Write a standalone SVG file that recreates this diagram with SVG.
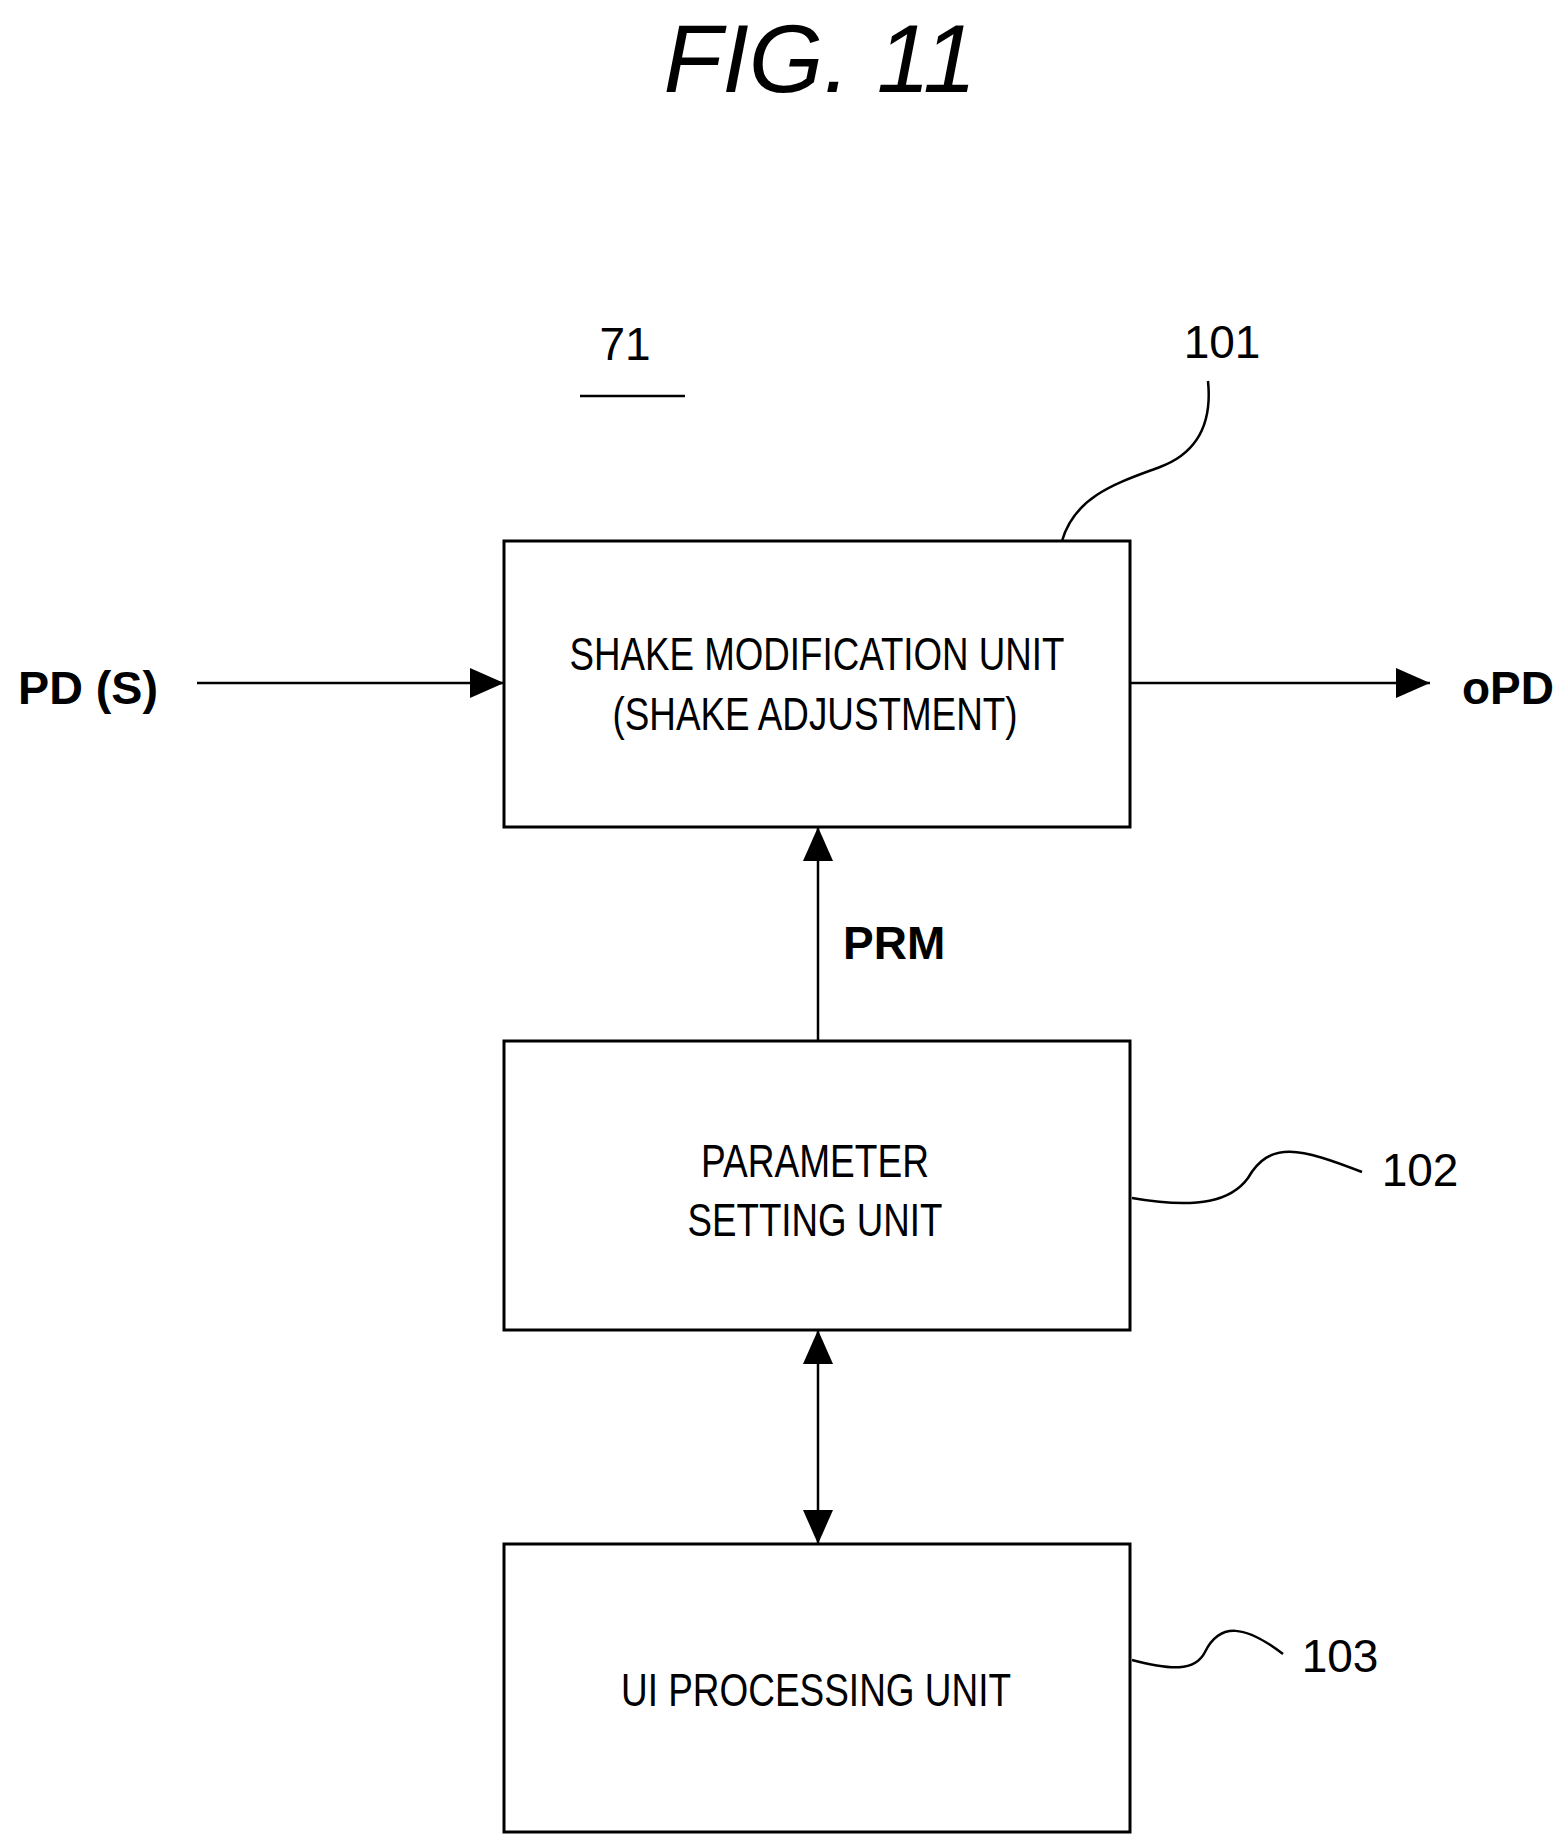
<svg xmlns="http://www.w3.org/2000/svg" width="1561" height="1844" viewBox="0 0 1561 1844">
<style>
.box{fill:#fff;stroke:#000;stroke-width:3}
.ln{fill:none;stroke:#000;stroke-width:2.5}
.t{font-family:"Liberation Sans",Arial,sans-serif;font-size:46px;fill:#000;text-anchor:middle}
.b{font-family:"Liberation Sans",Arial,sans-serif;font-size:46px;font-weight:bold;fill:#000}
</style>
<defs>
<marker id="ah" markerWidth="10" markerHeight="10" refX="10" refY="5" orient="auto-start-reverse" markerUnits="userSpaceOnUse" viewBox="0 0 10 10"><path d="M0,0 L10,5 L0,10 z" fill="#000" transform="scale(1)"/></marker>
<marker id="a" markerWidth="34" markerHeight="30" refX="34" refY="15" orient="auto-start-reverse" markerUnits="userSpaceOnUse"><path d="M0,0 L34,15 L0,30 z" fill="#000"/></marker>
</defs>
<text x="820" y="92" font-family="Liberation Sans,Arial,sans-serif" font-size="96" font-style="italic" text-anchor="middle">FIG. 11</text>
<text x="625" y="360" class="t">71</text>
<line x1="580" y1="396" x2="685" y2="396" class="ln" stroke-width="2"/>
<g id="n101"><rect x="504" y="541" width="626" height="286" class="box"/>
<text x="817" y="670" class="t" textLength="495" lengthAdjust="spacingAndGlyphs">SHAKE MODIFICATION UNIT</text>
<text x="815" y="730" class="t" textLength="405" lengthAdjust="spacingAndGlyphs">(SHAKE ADJUSTMENT)</text>
<text x="1222" y="358" class="t">101</text></g>
<g id="n102"><rect x="504" y="1041" width="626" height="289" class="box"/>
<text x="815" y="1177" class="t" textLength="228" lengthAdjust="spacingAndGlyphs">PARAMETER</text>
<text x="815" y="1236" class="t" textLength="255" lengthAdjust="spacingAndGlyphs">SETTING UNIT</text>
<text x="1420" y="1186" class="t">102</text></g>
<g id="n103"><rect x="504" y="1544" width="626" height="288" class="box"/>
<text x="816" y="1706" class="t" textLength="390" lengthAdjust="spacingAndGlyphs">UI PROCESSING UNIT</text>
<text x="1340" y="1672" class="t">103</text></g>
<text x="18" y="704" class="b" textLength="140" lengthAdjust="spacingAndGlyphs">PD (S)</text>
<text x="1462" y="704" class="b">oPD</text>
<text x="843" y="959" class="b">PRM</text>
<g id="connectors">
<line x1="197" y1="683" x2="504" y2="683" class="ln" marker-end="url(#a)"/>
<line x1="1130" y1="683" x2="1430" y2="683" class="ln" marker-end="url(#a)"/>
<line x1="818" y1="1041" x2="818" y2="827" class="ln" marker-end="url(#a)"/>
<line x1="818" y1="1330" x2="818" y2="1544" class="ln" marker-start="url(#a)" marker-end="url(#a)"/>
<path d="M1062,541 C1075,495 1120,482 1160,467 C1200,452 1212,420 1208,381" class="ln" stroke-width="2"/>
<path d="M1132,1198 C1200,1210 1232,1200 1248,1178 C1270,1140 1300,1148 1362,1172" class="ln" stroke-width="2"/>
<path d="M1132,1660 C1170,1670 1195,1672 1205,1652 C1220,1622 1245,1625 1283,1654" class="ln" stroke-width="2"/>
</g>
</svg>
